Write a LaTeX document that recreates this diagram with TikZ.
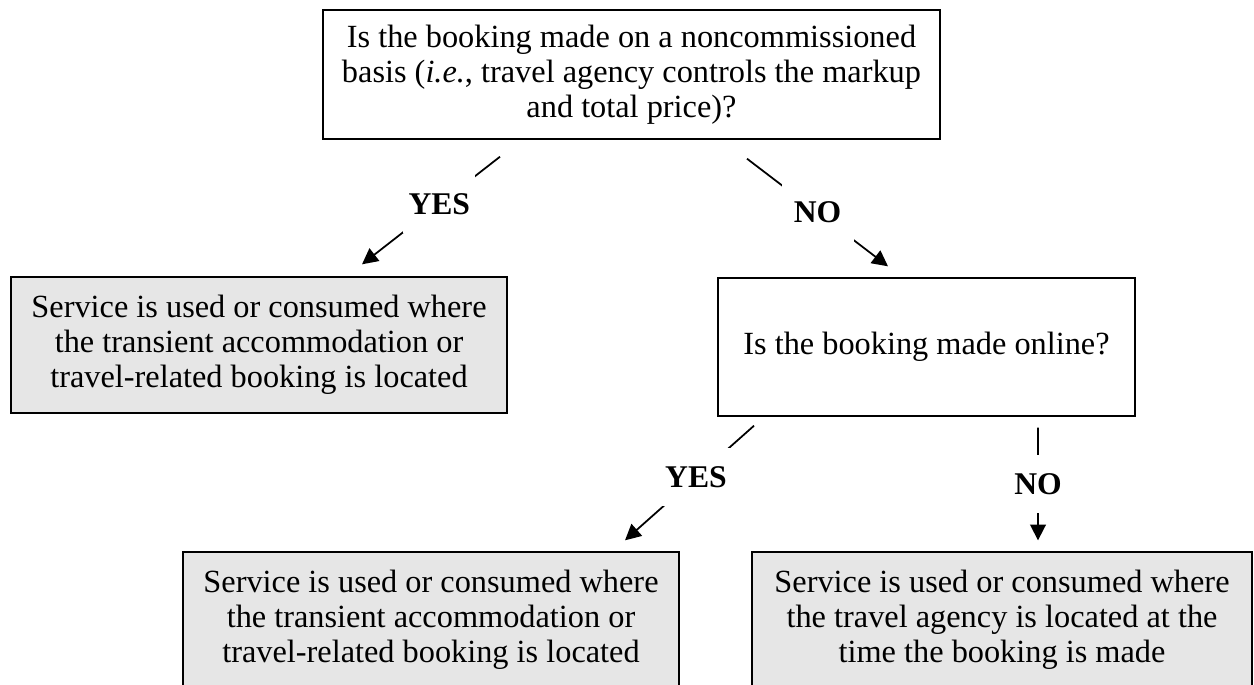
\documentclass[tikz,border=0pt]{standalone}
\usepackage{fontspec}
\setmainfont{Liberation Serif}
\usetikzlibrary{arrows.meta}
\definecolor{boxgray}{HTML}{E6E6E6}

\begin{document}
\begin{tikzpicture}[
  x=0.02cm, y=-0.02cm,
  box/.style={draw, line width=0.8pt, align=center, inner sep=0pt,
              font=\fontsize{18.4}{20}\selectfont},
  result/.style={box, fill=boxgray},
  arr/.style={-{Triangle[length=9pt, width=9pt]}, line width=1pt},
  lbl/.style={fill=white, inner sep=0pt, minimum width=1.44cm,
              minimum height=1.16cm, font=\fontsize{18}{20}\selectfont\bfseries},
]
\useasboundingbox (0,0) rectangle (1254,684);

% ---- First question ----
\node[box, minimum width=12.34cm, minimum height=2.58cm] (booking) at (631.5,74.5)
  {Is the booking made on a noncommissioned\\
   basis (\textit{i.e.}, travel agency controls the markup\\
   and total price)?};

\node[result, minimum width=9.92cm, minimum height=2.72cm] (direct) at (259,345)
  {Service is used or consumed where\\
   the transient accommodation or\\
   travel-related booking is located};

\draw[arr] ([shift={(-131.5,17)}]booking.south) -- node[lbl, pos=0.44] {YES}
  ([shift={(103,-12)}]direct.north);

% ---- Second question ----
\node[box, minimum width=8.34cm, minimum height=2.76cm] (online) at (926.5,347)
  {Is the booking made online?};

\draw[arr] ([shift={(115.5,19)}]booking.south) -- node[lbl, pos=0.5] {NO}
  ([shift={(-38.5,-11)}]online.north);

% ---- Results ----
\node[result, minimum width=9.92cm, minimum height=2.7cm] (bleft) at (431,619.5)
  {Service is used or consumed where\\
   the transient accommodation or\\
   travel-related booking is located};

\node[result, minimum width=10cm, minimum height=2.7cm] (bright) at (1002,619.5)
  {Service is used or consumed where\\
   the travel agency is located at the\\
   time the booking is made};

\draw[arr] ([shift={(-172.5,9)}]online.south) -- node[lbl, pos=0.45] {YES}
  ([shift={(194,-11)}]bleft.north);
\draw[arr] ([shift={(111.5,11)}]online.south) -- node[lbl, pos=0.5] {NO}
  ([shift={(36,-11)}]bright.north);

\end{tikzpicture}
\end{document}
